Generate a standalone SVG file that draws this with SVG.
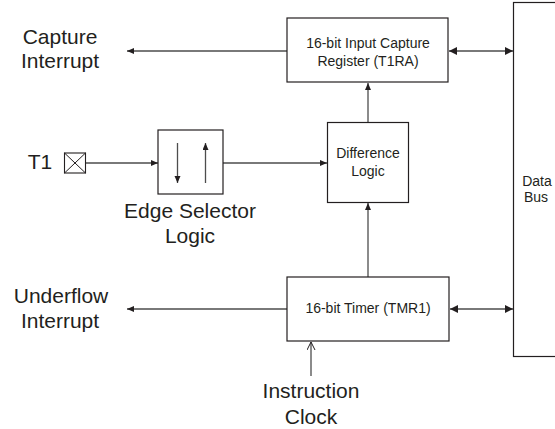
<svg xmlns="http://www.w3.org/2000/svg" width="555" height="429" viewBox="0 0 555 429">
<style>
.box{fill:#fff;stroke:#231f20;stroke-width:1.2}
.ln{fill:none;stroke:#4d4d4d;stroke-width:1.3}
.lbl{font-family:"Liberation Sans",Arial,sans-serif;font-size:21px;fill:#231f20;text-anchor:middle}
.bt{font-family:"Liberation Sans",Arial,sans-serif;font-size:14px;fill:#231f20;text-anchor:middle}
</style>
<defs>
<marker id="a" markerUnits="userSpaceOnUse" markerWidth="8" markerHeight="8" refX="7" refY="3" orient="auto-start-reverse"><path d="M0,0 L7,3 L0,6 z" fill="#231f20"/></marker>
<marker id="b" markerUnits="userSpaceOnUse" markerWidth="10" markerHeight="10" refX="8" refY="4" orient="auto-start-reverse"><path d="M0,0 L8,4 L0,8 z" fill="#231f20"/></marker>
<marker id="o" markerUnits="userSpaceOnUse" markerWidth="10" markerHeight="10" refX="8" refY="4" orient="auto"><path d="M0,0 L8,4 L0,8" fill="none" stroke="#231f20" stroke-width="1"/></marker>
</defs>
<rect width="555" height="429" fill="#fff"/>
<g id="connectors">
<line class="ln" x1="287" y1="51" x2="127" y2="51" marker-end="url(#a)"/>
<line class="ln" x1="449" y1="51" x2="513" y2="51" marker-start="url(#b)" marker-end="url(#b)"/>
<line class="ln" x1="368" y1="122" x2="368" y2="83" marker-end="url(#a)"/>
<line class="ln" x1="86" y1="163" x2="158" y2="163" marker-end="url(#a)"/>
<line class="ln" x1="223" y1="163" x2="327" y2="163" marker-end="url(#a)"/>
<line class="ln" x1="368" y1="277" x2="368" y2="203" marker-end="url(#a)"/>
<line class="ln" x1="287" y1="309" x2="127" y2="309" marker-end="url(#a)"/>
<line class="ln" x1="450" y1="309" x2="513" y2="309" marker-start="url(#b)" marker-end="url(#b)"/>
<line class="ln" x1="311" y1="376" x2="311" y2="342" marker-end="url(#o)"/>
</g>
<g id="capture-interrupt">
<text class="lbl" x="60" y="44">Capture</text>
<text class="lbl" x="60" y="68">Interrupt</text>
</g>
<g id="capture-register">
<rect class="box" x="287" y="18" width="161" height="64"/>
<text class="bt" x="368" y="48">16-bit Input Capture</text>
<text class="bt" x="368" y="66">Register (T1RA)</text>
</g>
<g id="data-bus">
<rect class="box" x="513.5" y="2.5" width="60" height="354"/>
<text class="bt" x="537" y="186">Data</text>
<text class="bt" x="536" y="202">Bus</text>
</g>
<g id="t1">
<text class="lbl" x="40" y="169">T1</text>
<rect x="64.5" y="153" width="21" height="20" fill="#fff" stroke="#231f20" stroke-width="1.1"/>
<path d="M64.5,153 L85.5,173 M85.5,153 L64.5,173" stroke="#231f20" stroke-width="1" fill="none"/>
</g>
<g id="edge-selector">
<rect class="box" x="158" y="130" width="65" height="64"/>
<line class="ln" x1="177.5" y1="143" x2="177.5" y2="183" marker-end="url(#a)"/>
<line class="ln" x1="205.5" y1="183" x2="205.5" y2="143" marker-end="url(#a)"/>
<text class="lbl" x="190" y="218">Edge Selector</text>
<text class="lbl" x="190" y="243">Logic</text>
</g>
<g id="difference-logic">
<rect class="box" x="327.5" y="122.5" width="81" height="80"/>
<text class="bt" x="368" y="158">Difference</text>
<text class="bt" x="368" y="176">Logic</text>
</g>
<g id="timer">
<rect class="box" x="287" y="277" width="162" height="64"/>
<text class="bt" x="368" y="313">16-bit Timer (TMR1)</text>
</g>
<g id="underflow-interrupt">
<text class="lbl" x="61" y="303">Underflow</text>
<text class="lbl" x="60" y="328">Interrupt</text>
</g>
<g id="instruction-clock">
<text class="lbl" x="311" y="398">Instruction</text>
<text class="lbl" x="311" y="424">Clock</text>
</g>
</svg>
